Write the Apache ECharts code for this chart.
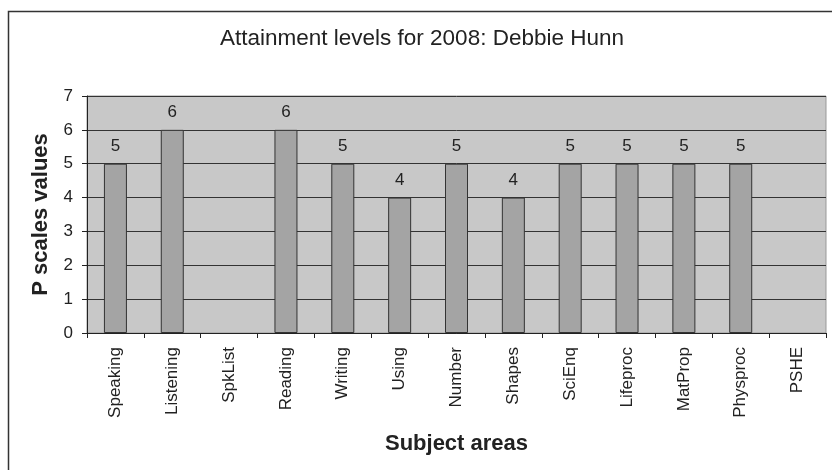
<!DOCTYPE html>
<html>
<head>
<meta charset="utf-8">
<script src="https://cdn.jsdelivr.net/npm/echarts@6/dist/echarts.min.js"></script>
<style>
html,body{margin:0;padding:0;background:#fff;}
#chart{width:832px;height:470px;}
</style>
</head>
<body>
<div id="chart"></div>
<script>
var categories = ['Speaking','Listening','SpkList','Reading','Writing','Using','Number','Shapes','SciEnq','Lifeproc','MatProp','Physproc','PSHE'];
var values = [5, 6, null, 6, 5, 4, 5, 4, 5, 5, 5, 5, null];
var yTicks = [0, 1, 2, 3, 4, 5, 6, 7];

var FONT = '"Liberation Sans", Arial, sans-serif';
var chart = echarts.init(document.getElementById('chart'), null, {renderer:'canvas'});
chart.setOption({
  animation: false,
  backgroundColor: '#ffffff',
  title: {
    text: 'Attainment levels for 2008: Debbie Hunn',
    left: 422, top: 27, textAlign: 'center', padding: 0,
    textStyle: {fontFamily: FONT, fontSize: 22.5, fontWeight: 'normal', color: '#222'}
  },
  graphic: [{
    type: 'rect', silent: true, z: -1,
    shape: {x: 8.5, y: 11.5, width: 900, height: 600},
    style: {fill: 'none', stroke: '#333', lineWidth: 1.5}
  }],
  grid: {
    left: 87, right: 6, top: 96, bottom: 137,
    show: true, backgroundColor: '#c8c8c8', borderColor: '#999', borderWidth: 1
  },
  xAxis: {
    type: 'category', data: categories,
    name: 'Subject areas', nameLocation: 'middle', nameGap: 100,
    nameTextStyle: {fontFamily: FONT, fontSize: 22, fontWeight: 'bold', color: '#222'},
    axisLine: {lineStyle: {color: '#222', width: 1}},
    axisTick: {show: true, length: 5, alignWithLabel: false, lineStyle: {color: '#222'}},
    axisLabel: {rotate: 90, margin: 14, fontFamily: FONT, fontSize: 17, color: '#222', interval: 0},
    splitLine: {show: false}
  },
  yAxis: {
    type: 'value', min: yTicks[0], max: yTicks[yTicks.length-1], interval: 1,
    name: 'P scales values', nameLocation: 'middle', nameGap: 35, nameRotate: 90,
    nameTextStyle: {fontFamily: FONT, fontSize: 22, fontWeight: 'bold', color: '#222'},
    axisLine: {show: true, lineStyle: {color: '#222', width: 1}},
    axisTick: {show: true, length: 5, lineStyle: {color: '#222'}},
    axisLabel: {margin: 14, fontFamily: FONT, fontSize: 17, color: '#222'},
    splitLine: {show: true, lineStyle: {color: '#333', width: 1}}
  },
  series: [{
    type: 'bar', data: values, barWidth: 23,
    itemStyle: {color: '#a4a4a4', borderColor: '#333', borderWidth: 1},
    label: {show: true, position: 'top', distance: 9, fontFamily: FONT, fontSize: 17, color: '#222'}
  }]
});
</script>
</body>
</html>
